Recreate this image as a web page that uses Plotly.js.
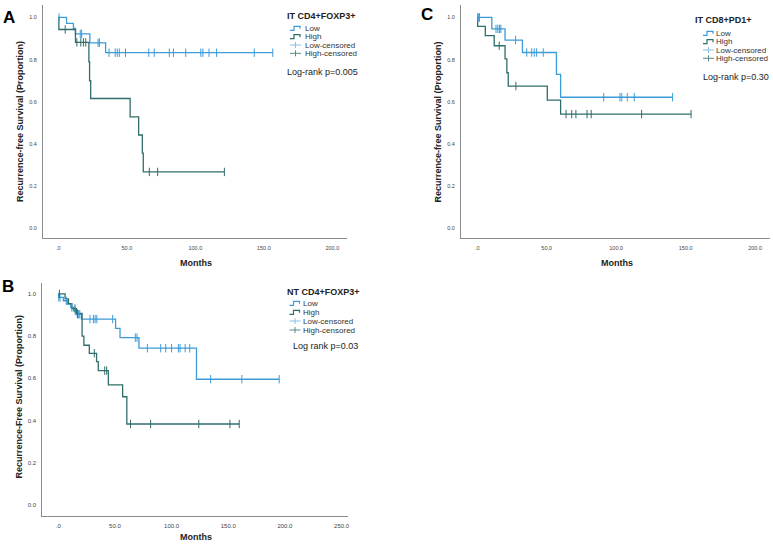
<!DOCTYPE html>
<html>
<head>
<meta charset="utf-8">
<script src="https://cdn.plot.ly/plotly-3.0.1.min.js"></script>
<style>html,body{margin:0;padding:0;background:#fff;}#chart{width:773px;height:544px;}</style>
</head>
<body>
<div id="chart"></div>
<script>
// ---------- Data ----------
// Panel A: IT CD4+FOXP3+
const aLowTime  = [0, 6, 11, 12.5, 23, 34.5, 156.5];
const aLowSurv  = [1.0, 0.972, 0.948, 0.922, 0.88, 0.833, 0.833];
const aLowCens  = [0.5, 16, 17, 29, 30, 37, 41.5, 43, 44.5, 49, 66, 70, 81, 84, 93, 104, 105.5, 110, 115.5, 143, 156.5];
const aHighTime = [0, 0.4, 12.5, 22.3, 22.8, 23.6, 52.4, 58.6, 61.3, 62, 121.2];
const aHighSurv = [1.0, 0.943, 0.882, 0.79, 0.70, 0.616, 0.529, 0.443, 0.357, 0.268, 0.268];
const aHighCens = [5, 13.5, 16.4, 18.3, 20, 66.4, 72.5, 121.2];

// Panel C: IT CD8+PD1+
const cLowTime  = [0, 10.5, 20, 32.5, 57, 60, 140.6];
const cLowSurv  = [1.0, 0.946, 0.893, 0.834, 0.73, 0.622, 0.622];
const cLowCens  = [0.3, 1, 1.6, 13.5, 14.8, 16, 17, 27.6, 35.6, 39.2, 41, 42.7, 47.5, 91, 102.7, 104, 108, 113, 140.6];
const cHighTime = [0, 0.3, 5.8, 12.2, 20, 21.3, 22.3, 50.4, 60, 153.9];
const cHighSurv = [1.0, 0.958, 0.914, 0.866, 0.804, 0.738, 0.675, 0.608, 0.542, 0.542];
const cHighCens = [15.8, 27.8, 63.9, 68, 71, 79, 82, 118.3, 153.9];

// Panel B: NT CD4+FOXP3+
const bLowTime  = [0, 0.3, 4.5, 8, 11, 13.5, 16, 20.5, 50.6, 54.5, 71.2, 122, 195];
const bLowSurv  = [1.0, 0.984, 0.968, 0.952, 0.936, 0.92, 0.904, 0.881, 0.837, 0.793, 0.743, 0.596, 0.596];
const bLowCens  = [0.5, 1.5, 7, 12, 15, 17, 18, 19, 28, 31, 32.5, 34, 48, 68, 69.5, 78.6, 90.4, 94.8, 100, 106, 107.5, 112, 116, 134.5, 162, 195];
const bHighTime = [0, 6, 9, 12, 16, 21, 22.6, 27.4, 33.8, 35.3, 44.2, 56.8, 60.5, 159.7];
const bHighSurv = [1.0, 0.977, 0.954, 0.931, 0.908, 0.80, 0.757, 0.719, 0.679, 0.637, 0.569, 0.513, 0.384, 0.384];
const bHighCens = [1, 14.7, 16.8, 31.8, 41, 42.7, 63.8, 81.5, 124, 151.5, 159.7];

// Tick labels
const xTickValsAC = [0, 50, 100, 150, 200];
const xTickTextAC = [".0", "50.0", "100.0", "150.0", "200.0"];
const xTickValsB  = [0, 50, 100, 150, 200, 250];
const xTickTextB  = [".0", "50.0", "100.0", "150.0", "200.0", "250.0"];
const yTickVals   = [0, 0.2, 0.4, 0.6, 0.8, 1.0];
const yTickText   = ["0.0", "0.2", "0.4", "0.6", "0.8", "1.0"];

// Legend / text labels
const groupNames = ["Low", "High", "Low-censored", "High-censored"];
const panelTitles = {A: "IT CD4+FOXP3+", C: "IT CD8+PD1+", B: "NT CD4+FOXP3+"};
const pTexts = {A: "Log-rank p=0.005", C: "Log-rank p=0.30", B: "Log rank p=0.03"};
const yTitles = {A: "Recurrence-free Survival (Proportion)", C: "Recurrence-free Survival (Proportion)", B: "Recurrence-Free Survival (Proportion)"};

// ---------- Styling ----------
const LOW = "#3d9bd8";
const HIGH = "#2f6e6b";
const LOWC = "#86c1e8";
const HIGHC = "#5b8a88";
const W = 773, H = 544;
const FONT = "Liberation Sans, Arial, sans-serif";

function survAt(times, surv, t) {
  let v = surv[0];
  for (let i = 0; i < times.length; i++) { if (times[i] <= t) v = surv[i]; }
  return v;
}
function curve(t, s, color, xa, ya) {
  return {x: t, y: s, type: "scatter", mode: "lines", line: {shape: "hv", color: color, width: 1.3},
          xaxis: xa, yaxis: ya, hoverinfo: "skip"};
}
function cens(c, t, s, color, xa, ya) {
  return {x: c, y: c.map(v => survAt(t, s, v)), type: "scatter", mode: "markers",
          marker: {symbol: "line-ns", size: 6, color: color, line: {color: color, width: 1}},
          xaxis: xa, yaxis: ya, hoverinfo: "skip"};
}

const data = [
  curve(aLowTime, aLowSurv, LOW, "x", "y"),
  curve(aHighTime, aHighSurv, HIGH, "x", "y"),
  cens(aLowCens, aLowTime, aLowSurv, LOW, "x", "y"),
  cens(aHighCens, aHighTime, aHighSurv, HIGH, "x", "y"),
  curve(cLowTime, cLowSurv, LOW, "x2", "y2"),
  curve(cHighTime, cHighSurv, HIGH, "x2", "y2"),
  cens(cLowCens, cLowTime, cLowSurv, LOW, "x2", "y2"),
  cens(cHighCens, cHighTime, cHighSurv, HIGH, "x2", "y2"),
  curve(bLowTime, bLowSurv, LOW, "x3", "y3"),
  curve(bHighTime, bHighSurv, HIGH, "x3", "y3"),
  cens(bLowCens, bLowTime, bLowSurv, LOW, "x3", "y3"),
  cens(bHighCens, bHighTime, bHighSurv, HIGH, "x3", "y3")
];

function px(x) { return x / W; }
function py(y) { return 1 - y / H; }

function xAxis(domain, range, vals, text, anchor, fs) {
  return {domain: domain, range: range, anchor: anchor, showline: true, linecolor: "#8c8c8c", linewidth: 1,
          showgrid: false, zeroline: false, ticks: "", tickvals: vals, ticktext: text,
          tickfont: {family: FONT, size: fs, color: "#444"}, ticklabelstandoff: 4, fixedrange: true};
}
function yAxis(domain, range, anchor, fs) {
  return {domain: domain, range: range, anchor: anchor, showline: true, linecolor: "#8c8c8c", linewidth: 1,
          showgrid: false, zeroline: false, ticks: "", tickvals: yTickVals, ticktext: yTickText,
          tickfont: {family: FONT, size: fs, color: "#444"}, ticklabelstandoff: 4, fixedrange: true};
}

const annotations = [];
const shapes = [];
function txt(x, y, text, size, opts) {
  annotations.push(Object.assign({xref: "paper", yref: "paper", x: px(x), y: py(y), text: text, showarrow: false,
    xanchor: "left", yanchor: "middle", font: {family: FONT, size: size, color: "#222"}}, opts || {}));
}
function legend(key, titleX, titleY, iconX, textX, ys, pX, pY) {
  txt(titleX, titleY, "<b>" + panelTitles[key] + "</b>", 9, {xanchor: "center"});
  const cols = [LOW, HIGH, LOWC, HIGHC];
  for (let i = 0; i < 4; i++) {
    const y = ys[i];
    if (i < 2) {
      const path = "M" + px(iconX) + "," + py(y + 2) + " L" + px(iconX + 4) + "," + py(y + 2) +
                   " L" + px(iconX + 4) + "," + py(y - 2) + " L" + px(iconX + 10) + "," + py(y - 2) +
                   " L" + px(iconX + 10) + "," + py(y + 0.5);
      shapes.push({type: "path", xref: "paper", yref: "paper", path: path, line: {color: cols[i], width: 1.2}});
    } else {
      shapes.push({type: "line", xref: "paper", yref: "paper", x0: px(iconX), x1: px(iconX + 11), y0: py(y), y1: py(y),
                   line: {color: cols[i], width: 1}});
      shapes.push({type: "line", xref: "paper", yref: "paper", x0: px(iconX + 5.5), x1: px(iconX + 5.5), y0: py(y - 3), y1: py(y + 3),
                   line: {color: cols[i], width: 1}});
    }
    txt(textX, y, groupNames[i], 8, {font: {family: FONT, size: 8, color: "#333"}});
  }
  txt(pX, pY, pTexts[key], 9, {font: {family: FONT, size: 9, color: "#222"}});
}

legend("A", 321.5, 15.7, 290, 302.5, [28.3, 36.7, 45, 53.3], 285, 71.7);
legend("C", 723.3, 20, 703, 714, [33.3, 41.7, 50, 58.3], 701, 77.3);
legend("B", 323, 291.7, 289.5, 300.5, [303.3, 312.3, 321, 330], 291, 345.7);

// panel letters
txt(9, 17, "<b>A</b>", 17, {xanchor: "center", font: {family: FONT, size: 17, color: "#000"}});
txt(427, 14, "<b>C</b>", 17, {xanchor: "center", font: {family: FONT, size: 17, color: "#000"}});
txt(8, 286, "<b>B</b>", 17, {xanchor: "center", font: {family: FONT, size: 17, color: "#000"}});

// axis titles
function ytitle(x, y, key) {
  txt(x, y, "<b>" + yTitles[key] + "</b>", 9, {xanchor: "center", textangle: -90, font: {family: FONT, size: 9, color: "#222"}});
}
ytitle(20, 122, "A");
ytitle(437.5, 122, "C");
ytitle(18.5, 397, "B");
txt(196, 263, "<b>Months</b>", 9, {xanchor: "center", font: {family: FONT, size: 9, color: "#222"}});
txt(617, 263, "<b>Months</b>", 9, {xanchor: "center", font: {family: FONT, size: 9, color: "#222"}});
txt(196, 537, "<b>Months</b>", 9, {xanchor: "center", font: {family: FONT, size: 9, color: "#222"}});

const layout = {
  width: W, height: H, margin: {l: 0, r: 0, t: 0, b: 0},
  paper_bgcolor: "#fff", plot_bgcolor: "#fff", showlegend: false,
  xaxis:  xAxis([px(43), px(347)], [-11.2, 210.7], xTickValsAC, xTickTextAC, "y", 5.5),
  yaxis:  yAxis([py(238), py(5)], [-0.045, 1.059], "x", 5.5),
  xaxis2: xAxis([px(461), px(770)], [-11.7, 210.7], xTickValsAC, xTickTextAC, "y2", 5.5),
  yaxis2: yAxis([py(238), py(5)], [-0.045, 1.059], "x2", 5.5),
  xaxis3: xAxis([px(42.3), px(348)], [-14.1, 255.7], xTickValsB, xTickTextB, "y3", 6),
  yaxis3: yAxis([py(516), py(283)], [-0.052, 1.052], "x3", 6),
  annotations: annotations,
  shapes: shapes
};

Plotly.newPlot("chart", data, layout, {displayModeBar: false, staticPlot: true});
</script>
</body>
</html>
